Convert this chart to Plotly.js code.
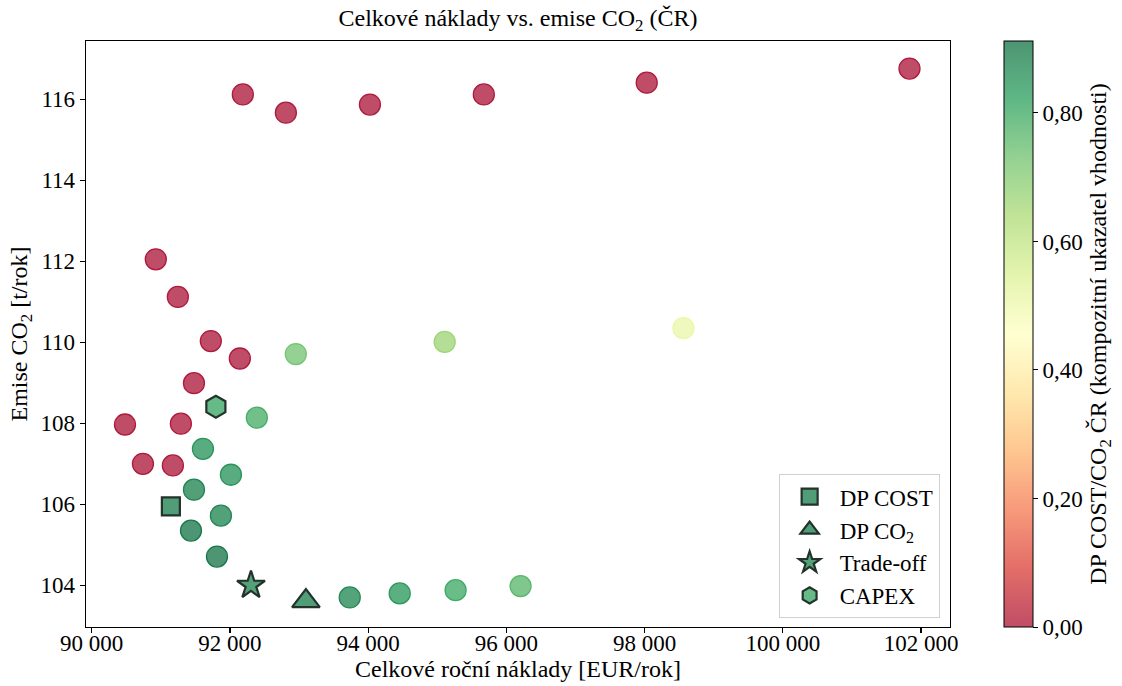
<!DOCTYPE html>
<html>
<head>
<meta charset="utf-8">
<script src="https://cdn.plot.ly/plotly-3.0.1.min.js"></script>
<style>html,body{margin:0;padding:0;background:#fff}#chart{width:1122px;height:686px}</style>
</head>
<body>
<div id="chart"></div>
<script>
// ---- data ----
const costs = [92187, 92810, 94026, 95674, 98031, 101833,
  90928, 91247, 91724, 92144, 91480, 90482, 91291, 90742, 91175,
  92954, 95108, 98562, 92390, 91610, 92015, 91480, 91870, 91437, 91813,
  93734, 94457, 95266, 96206];
const emissions = [116.12, 115.67, 115.87, 116.12, 116.41, 116.76,
  112.05, 111.12, 110.03, 109.60, 108.99, 107.97, 107.99, 107.00, 106.96,
  109.71, 110.01, 110.35, 108.14, 107.37, 106.73, 106.36, 105.72, 105.35, 104.71,
  103.70, 103.80, 103.88, 103.98];
const scores = [0, 0, 0, 0, 0, 0,
  0, 0, 0, 0, 0, 0, 0, 0, 0,
  0.73, 0.665, 0.51, 0.79, 0.85, 0.85, 0.885, 0.88, 0.91, 0.912,
  0.875, 0.84, 0.80, 0.765];

const specialNames = ["DP COST", "DP CO<sub>2</sub>", "Trade-off", "CAPEX"];
const specialCost = [91146, 93100, 92305, 91797];
const specialEmis = [105.95, 103.61, 104.00, 108.41];
const specialScore = [0.89, 0.89, 0.88, 0.81];

const xTicks = [90000, 92000, 94000, 96000, 98000, 100000, 102000];
const yTicks = [104, 106, 108, 110, 112, 114, 116];
const cbTicks = [0, 0.2, 0.4, 0.6, 0.8];
const scoreMax = 0.912;

// ---- colormap RdYlGn, blended with white (alpha) ----
const rdylgn = ["#a50026","#d73027","#f46d43","#fdae61","#fee08b","#ffffbf","#d9ef8b","#a6d96a","#66bd63","#1a9850","#006837"];
function blend(hex, a){
  const r=parseInt(hex.substr(1,2),16), g=parseInt(hex.substr(3,2),16), b=parseInt(hex.substr(5,2),16);
  const f=c=>Math.round(c*a+255*(1-a));
  return `rgb(${f(r)},${f(g)},${f(b)})`;
}
const fillScale = rdylgn.map((c,i)=>[i/10, blend(c,0.7)]);
const edgeScale = rdylgn.map((c,i)=>[i/10, blend(c,0.9)]);

const FONT = "Liberation Serif, Times New Roman, serif";
const TICK = 23, LAB = 24;

const traces = [{
  type: "scatter", mode: "markers",
  x: costs, y: emissions, showlegend: false, hoverinfo: "x+y",
  marker: {
    size: 21, symbol: "circle",
    color: scores, colorscale: fillScale, cmin: 0, cmax: scoreMax,
    line: {width: 1.3, color: scores, colorscale: edgeScale, cmin: 0, cmax: scoreMax},
    colorbar: {
      x: 1.0625, xanchor: "left", xpad: 0, ypad: 0,
      y: 0.5, yanchor: "middle", len: 1, lenmode: "fraction",
      thickness: 29, thicknessmode: "pixels",
      outlinewidth: 1, outlinecolor: "#000",
      tickvals: cbTicks, tickformat: ".2f",
      ticks: "outside", ticklen: 5, tickcolor: "#000",
      tickfont: {family: FONT, size: TICK, color: "#000"},
      title: {text: "DP COST/CO<sub>2</sub> ČR (kompozitní ukazatel vhodnosti)", side: "right",
              font: {family: FONT, size: LAB, color: "#000"}}
    }
  }
}];

const symbols = ["square", "triangle-up", "star", "hexagon"];
const sizes = [18, 24, 21, 22];
for (let i = 0; i < specialNames.length; i++) {
  traces.push({
    type: "scatter", mode: "markers", name: specialNames[i],
    x: [specialCost[i]], y: [specialEmis[i]],
    marker: {
      symbol: symbols[i], size: sizes[i],
      color: [specialScore[i]], colorscale: fillScale, cmin: 0, cmax: scoreMax,
      line: {width: 2.2, color: "#23322b"}
    }
  });
}

const axisCommon = {
  showline: true, mirror: true, linecolor: "#000", linewidth: 1.3,
  showgrid: false, zeroline: false, automargin: false,
  ticks: "outside", ticklen: 5, tickwidth: 1.2, tickcolor: "#000",
  tickfont: {family: FONT, size: TICK, color: "#000"}
};

const layout = {
  width: 1122, height: 686,
  margin: {l: 86, r: 172, t: 41, b: 59, autoexpand: false},
  paper_bgcolor: "#fff", plot_bgcolor: "#fff",
  separators: ", ",
  font: {family: FONT, size: LAB, color: "#000"},
  title: {text: "Celkové náklady vs. emise CO<sub>2</sub> (ČR)", x: 0.5, xref: "paper", y: 0.986, yanchor: "top",
          font: {family: FONT, size: LAB, color: "#000"}},
  xaxis: Object.assign({}, axisCommon, {
    range: [89918, 102419], tickvals: xTicks, tickformat: ",d", ticklabelstandoff: -10,
    title: {text: "Celkové roční náklady [EUR/rok]", standoff: 2, font: {family: FONT, size: LAB, color: "#000"}}
  }),
  yaxis: Object.assign({}, axisCommon, {
    range: [102.97, 117.44], tickvals: yTicks,
    title: {text: "Emise CO<sub>2</sub> [t/rok]", standoff: 6, font: {family: FONT, size: LAB, color: "#000"}}
  }),
  legend: {
    x: 0.988, xanchor: "right", y: 0.015, yanchor: "bottom",
    bgcolor: "rgba(255,255,255,0.85)", bordercolor: "#d0d0d0", borderwidth: 1,
    font: {family: FONT, size: 23, color: "#000"}, itemwidth: 50, tracegroupgap: 0
  },
  showlegend: true
};

Plotly.newPlot("chart", traces, layout, {displayModeBar: false, staticPlot: true});
</script>
</body>
</html>
